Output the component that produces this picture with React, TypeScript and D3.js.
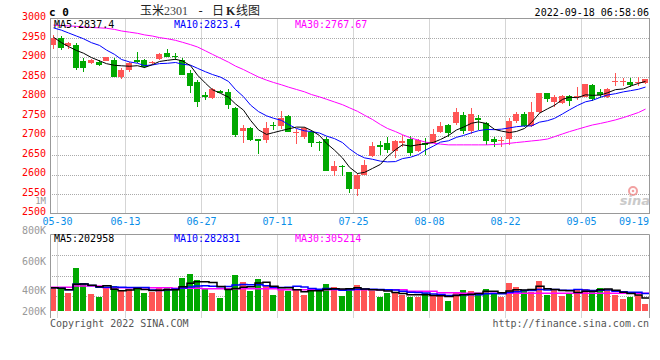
import React from "react";
import * as d3 from "d3";

const dates = [
  "05-27","05-30","05-31","06-01","06-02","06-06","06-07","06-08","06-09","06-10",
  "06-13","06-14","06-15","06-16","06-17","06-20","06-21","06-22","06-23","06-24",
  "06-27","06-28","06-29","06-30","07-01","07-04","07-05","07-06","07-07","07-08",
  "07-11","07-12","07-13","07-14","07-15","07-18","07-19","07-20","07-21","07-22",
  "07-25","07-26","07-27","07-28","07-29","08-01","08-02","08-03","08-04","08-05",
  "08-08","08-09","08-10","08-11","08-12","08-15","08-16","08-17","08-18","08-19",
  "08-22","08-23","08-24","08-25","08-26","08-29","08-30","08-31","09-01","09-02",
  "09-05","09-06","09-07","09-08","09-09","09-13","09-14","09-15","09-16",
];

const opens = [
  2932,2949,2929,2932,2891,2885,2888,2892,2893,2851,
  2868,2893,2893,2885,2895,2912,2905,2893,2859,2838,
  2804,2797,2815,2812,2771,2712,2720,2691,2688,2727,
  2724,2750,2707,2697,2710,2684,2690,2610,2622,2607,
  2563,2600,2647,2676,2682,2661,2680,2690,2661,2680,
  2682,2710,2727,2731,2753,2712,2746,2733,2691,2686,
  2690,2737,2755,2725,2759,2808,2787,2784,2801,2800,
  2800,2829,2812,2799,2840,2838,2838,2837,2834,
];
const highs = [
  2958,2955,2940,2936,2898,2895,2894,2902,2898,2872,
  2889,2915,2895,2891,2912,2921,2912,2898,2868,2842,
  2812,2821,2817,2818,2774,2728,2722,2691,2734,2735,
  2763,2752,2716,2722,2714,2687,2697,2635,2624,2607,
  2603,2637,2684,2686,2695,2688,2701,2699,2690,2693,
  2716,2735,2729,2771,2761,2770,2752,2735,2695,2697,
  2744,2761,2761,2787,2808,2808,2804,2804,2804,2825,
  2832,2831,2818,2823,2861,2847,2847,2851,2846,
];
const lows = [
  2921,2919,2921,2868,2864,2883,2879,2890,2851,2845,
  2864,2885,2874,2883,2893,2900,2893,2855,2808,2772,
  2791,2793,2808,2767,2697,2680,2687,2652,2682,2714,
  2717,2709,2678,2690,2671,2661,2608,2596,2597,2552,
  2545,2598,2646,2650,2654,2643,2670,2647,2658,2650,
  2680,2707,2695,2727,2704,2704,2714,2676,2670,2671,
  2676,2731,2722,2722,2757,2787,2772,2782,2776,2791,
  2798,2789,2795,2795,2827,2827,2825,2827,2832,
];
const closes = [
  2949,2924,2936,2872,2874,2893,2882,2900,2851,2868,
  2887,2889,2876,2889,2908,2902,2902,2855,2828,2787,
  2798,2818,2810,2778,2701,2718,2688,2687,2720,2724,
  2744,2710,2710,2718,2682,2680,2610,2622,2618,2563,
  2600,2624,2673,2670,2664,2687,2687,2656,2688,2676,
  2705,2724,2707,2759,2712,2755,2741,2687,2684,2689,
  2737,2755,2725,2761,2808,2793,2800,2801,2789,2801,
  2831,2793,2804,2819,2841,2840,2830,2838,2845,
];

// volume in thousands
const volumes = [
  402,380,316,747,489,299,247,402,437,362,
  374,374,316,333,402,402,374,575,638,535,
  391,316,230,385,627,500,351,558,454,282,
  368,351,385,282,368,368,471,420,264,397,
  454,368,351,247,310,328,282,236,236,310,
  282,259,173,316,362,345,305,380,305,242,
  489,420,362,333,523,276,362,264,316,380,
  380,362,402,380,276,207,247,276,121,
];

// 30-day averages (history before the first bar is not shown)
const ma30 = [
  2983,2982,2981,2980,2978,2977,2976,2975,2972,2968,
  2965,2962,2958,2955,2951,2948,2944,2939,2933,2927,
  2917,2908,2898,2888,2878,2869,2860,2850,2842,2836,
  2830,2824,2818,2812,2805,2799,2793,2786,2779,2771,
  2762,2752,2741,2728,2718,2710,2702,2694,2688,2683,
  2680,2678,2676,2676,2676,2676,2676,2676,2677,2678,
  2680,2682,2684,2686,2688,2691,2697,2704,2710,2716,
  2722,2727,2731,2735,2740,2746,2752,2759,2767.67,
];
const ma5Head = [2952, 2938, 2928, 2918];
const ma10Head = [2976, 2970, 2963, 2955, 2948, 2938, 2931, 2919, 2908];

const volMa30 = [
  409,409,409,431,431,431,431,402,402,402,
  402,402,402,402,402,402,391,391,391,391,
  385,385,385,385,385,385,385,385,385,385,
  368,368,368,368,368,368,368,368,368,368,
  368,368,368,368,368,368,368,340,340,340,
  340,316,316,316,305,305,305,305,305,305,
  305,305,305,305,305,305,305,305,305,305,
  305,305,305,305,305,305,305,305,305,
];

const priceTicks = [3000, 2950, 2900, 2850, 2800, 2750, 2700, 2650, 2600, 2550, 2500];
const dateTicks = ["05-30", "06-13", "06-27", "07-11", "07-25", "08-08", "08-22", "09-05", "09-19"];
const volTickLabels = ["800K", "600K", "400K", "200K"];
const volTickValues = [800, 600, 400, 200];
const priceLegend = ["MA5:2837.4", "MA10:2823.4", "MA30:2767.67"];
const volLegend = ["MA5:202958", "MA10:282831", "MA30:305214"];
const legendColors = ["#000000", "#0000ff", "#ff00ff"];

const MONO = "'DejaVu Sans Mono', 'Liberation Mono', monospace";
const UP = "#ff5555";
const DOWN = "#00a800";
const GRID = "#aaaaaa";
const BORDER = "#999999";

function movingAvg(vals: number[], n: number, head?: number[]) {
  return vals.map((_, i) => {
    if (i < n - 1) return head ? head[i] : (d3.mean(vals.slice(0, i + 1)) as number);
    return d3.mean(vals.slice(i - n + 1, i + 1)) as number;
  });
}

export default function App() {
  const n = dates.length;
  const L = 50, R = 649.5;
  const pTop = 18.5, pBot = 213.5;
  const vTop = 234.5, vBase = 311, vEnd = 318;

  const x = d3.scaleLinear().domain([0, n]).range([50, 650]);
  const yP = d3.scaleLinear().domain([2500, 3000]).range([pBot, pTop]);
  const yV = d3.scaleLinear().domain([0, 1320]).range([vBase, vTop]);
  const yVLabel = d3.scaleLinear().domain([200, 400, 600, 800]).range([314.6, 294.3, 264.6, 234.3]);

  const left = (i: number) => Math.round(x(i));
  const cx = (i: number) => left(i) + 3.5;

  const ma5 = movingAvg(closes, 5, ma5Head);
  const ma10 = movingAvg(closes, 10, ma10Head);
  const vma5 = movingAvg(volumes, 5);
  const vma10 = movingAvg(volumes, 10);

  const priceLine = d3.line<number>().x((_, i) => cx(i)).y((d) => yP(d));
  const volLine = (vals: number[]) => {
    const pts: [number, number][] = vals.map((v, i) => [left(i), yV(v)]);
    pts.push([left(n - 1) + 7, yV(vals[n - 1])]);
    return d3.line().curve(d3.curveStepAfter)(pts) as string;
  };

  const tickIdx = dateTicks.map((t) => {
    const k = dates.indexOf(t);
    return k < 0 ? n : k;
  });

  const gridLinesY = d3.range(1, 4).map((k) => vTop + k * 20.5);

  return (
    <svg
      width={660}
      height={360}
      style={{ position: "absolute", left: 0, top: 0, background: "#fff" }}
    >
      <rect x={0} y={0} width={660} height={360} fill="#fff" />
      {/* header */}
      <text x={49} y={16} fontFamily={MONO} fontSize={11} fontWeight="bold" fill="#000">c 0</text>
      <text y={15} fontSize={12} fill="#222">
        <tspan x={140} fontFamily="'Noto Sans CJK SC'">玉米</tspan>
        <tspan fontFamily="'Liberation Serif', serif" fill="#444">2301</tspan>
        <tspan x={197} fontFamily={MONO}>-</tspan>
        <tspan x={212} fontFamily="'Noto Sans CJK SC'">日</tspan>
        <tspan x={226} fontFamily="'Liberation Serif', serif" fontWeight="bold">K</tspan>
        <tspan x={236} fontFamily="'Noto Sans CJK SC'">线图</tspan>
      </text>
      <text x={649} y={16} textAnchor="end" fontFamily={MONO} fontSize={10} fill="#000">2022-09-18 06:58:06</text>

      {/* price grid */}
      {priceTicks.slice(1, -1).map((p) => (
        <line key={"pg" + p} x1={L} x2={R} y1={Math.round(yP(p)) + 0.5} y2={Math.round(yP(p)) + 0.5}
          stroke={GRID} strokeDasharray="1,1" />
      ))}
      {tickIdx.slice(0, -1).map((k, j) => (
        <g key={"vg" + j}>
          <line x1={left(k) - 0.5} x2={left(k) - 0.5} y1={pTop} y2={pBot} stroke={GRID} strokeDasharray="1,1" />
          <line x1={left(k) - 0.5} x2={left(k) - 0.5} y1={vTop} y2={vEnd} stroke={GRID} strokeDasharray="1,1" />
        </g>
      ))}
      {gridLinesY.map((gy, j) => (
        <line key={"vh" + j} x1={L} x2={R} y1={Math.round(gy) + 0.5} y2={Math.round(gy) + 0.5}
          stroke={GRID} strokeDasharray="1,1" />
      ))}

      {/* candles */}
      {closes.map((c, i) => {
        const o = opens[i];
        const up = c >= o;
        const col = up ? UP : DOWN;
        const top = Math.round(yP(Math.max(o, c)));
        const bot = Math.round(yP(Math.min(o, c)));
        const hiY = Math.round(yP(highs[i]));
        const loY = Math.round(yP(lows[i]));
        return (
          <g key={"c" + i} shapeRendering="crispEdges">
            <rect x={left(i) + 3} y={hiY} width={1} height={Math.max(1, loY - hiY)} fill={col} />
            <rect x={left(i)} y={top} width={6} height={Math.max(1, bot - top)} fill={col} />
          </g>
        );
      })}

      {/* price MAs */}
      <path d={priceLine(ma30) as string} fill="none" stroke="#ff00ff" strokeWidth={1} />
      <path d={priceLine(ma10) as string} fill="none" stroke="#0000ff" strokeWidth={1} />
      <path d={priceLine(ma5) as string} fill="none" stroke="#000000" strokeWidth={1} />

      {/* volume bars */}
      {volumes.map((v, i) => {
        const up = closes[i] >= opens[i];
        const y0 = Math.round(yV(v));
        return (
          <rect key={"v" + i} x={left(i)} y={y0} width={6} height={vBase - y0}
            fill={up ? UP : DOWN} shapeRendering="crispEdges" />
        );
      })}
      <path d={volLine(volMa30)} fill="none" stroke="#ff00ff" strokeWidth={1.5} />
      <path d={volLine(vma10)} fill="none" stroke="#0000ff" strokeWidth={1.5} />
      <path d={volLine(vma5)} fill="none" stroke="#000000" strokeWidth={1.5} />

      {/* borders */}
      <rect x={L + 0.5} y={pTop} width={R - L - 0.5} height={pBot - pTop} fill="none" stroke={BORDER} strokeWidth={1} />
      <line x1={L + 0.5} x2={R} y1={vTop} y2={vTop} stroke={BORDER} />
      <line x1={L + 0.5} x2={L + 0.5} y1={vTop} y2={vEnd} stroke={BORDER} />
      <line x1={R} x2={R} y1={vTop} y2={vEnd} stroke={BORDER} />

      {/* legends */}
      {priceLegend.map((t, j) => (
        <text key={"pl" + j} x={[54, 174, 295][j]} y={28} fontFamily={MONO} fontSize={10} fill={legendColors[j]}>{t}</text>
      ))}
      {volLegend.map((t, j) => (
        <text key={"vl" + j} x={[54, 174, 295][j]} y={242} fontFamily={MONO} fontSize={10} fill={legendColors[j]}>{t}</text>
      ))}

      {/* price axis labels */}
      {priceTicks.map((p) => (
        <text key={"pt" + p} x={46} y={yP(p) + 1.6} textAnchor="end" fontFamily={MONO} fontSize={10} fill="#ff0000">{p}</text>
      ))}
      <text x={46} y={204.3} textAnchor="end" fontFamily={MONO} fontSize={9} fill="#999">1M</text>

      {/* date labels */}
      {dateTicks.map((t, j) => {
        const last = j === dateTicks.length - 1;
        return (
          <text key={"dt" + t} x={last ? 649 : left(tickIdx[j]) - 0.5} y={225.3}
            textAnchor={last ? "end" : "middle"} fontFamily={MONO} fontSize={10} fill="#0a8ee8">{t}</text>
        );
      })}

      {/* volume axis labels */}
      {volTickLabels.map((t, j) => (
        <text key={"vt" + t} x={46} y={yVLabel(volTickValues[j])} textAnchor="end" fontFamily={MONO} fontSize={10} fill="#999">{t}</text>
      ))}

      {/* sina watermark */}
      <g opacity={0.8}>
        <circle cx={633} cy={191} r={4} fill="none" stroke="#f08a8a" strokeWidth={2} />
        <circle cx={633} cy={191} r={1.3} fill="#f08a8a" />
        <text x={650} y={205} textAnchor="end" fontFamily="'DejaVu Sans', sans-serif" fontStyle="italic" fontWeight="bold" fontSize={13} fill="#bdbdbd">sina</text>
      </g>

      {/* footer */}
      <text x={50} y={327} fontFamily={MONO} fontSize={10} fill="#555">Copyright 2022 SINA.COM</text>
      <text x={649} y={327} textAnchor="end" fontFamily={MONO} fontSize={10} fill="#555">http://finance.sina.com.cn</text>
    </svg>
  );
}
